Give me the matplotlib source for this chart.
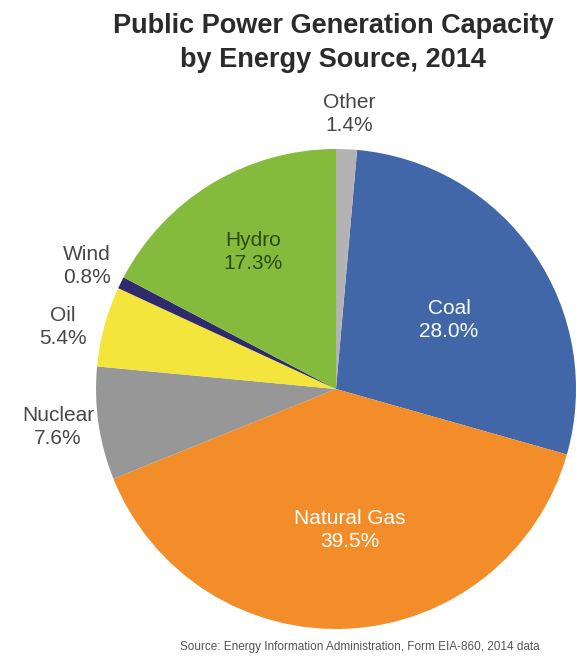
import matplotlib
matplotlib.use("Agg")
import matplotlib.pyplot as plt

categories = ["Coal", "Natural Gas", "Nuclear", "Oil", "Wind", "Hydro", "Other"]
values = [28.0, 39.5, 7.6, 5.4, 0.8, 17.3, 1.4]
colors = ["#4167A9", "#F28D2A", "#979797", "#F3E53B", "#2F2A6B", "#85BB3D", "#B3B3B3"]

plt.rcParams['font.family'] = ['Liberation Sans', 'DejaVu Sans']

W, H = 577, 656
fig = plt.figure(figsize=(W / 100, H / 100), dpi=100)
ax = fig.add_axes([0, 0, 1, 1])

cx, cy, r = 336, H - 389, 240
start = 90 - values[-1] / 100 * 360
ax.pie(values, colors=colors, startangle=start, counterclock=False,
       center=(cx, cy), radius=r, wedgeprops=dict(linewidth=0))
ax.set_xlim(0, W)
ax.set_ylim(0, H)
ax.set_aspect('equal')
ax.axis('off')

def lab(i, x, y, color):
    ax.text(x, H - y, f"{categories[i]}\n{values[i]:.1f}%", ha='center', va='center',
            fontsize=15, color=color, linespacing=1.26)

lab(0, 449, 320, 'white')
lab(1, 350, 530, 'white')
lab(2, 58, 427, '#474747')
lab(3, 63, 327, '#474747')
lab(4, 87, 266, '#474747')
lab(5, 253, 252, '#2c4a10')
lab(6, 349, 114, '#474747')

fig.text(333 / W, 1 - 43 / H, "Public Power Generation Capacity\nby Energy Source, 2014",
         ha='center', va='center', fontsize=19.5, fontweight='bold', color='#2b2b2b',
         linespacing=1.38)
fig.text(360 / W, 1 - 647 / H, "Source: Energy Information Administration, Form EIA-860, 2014 data",
         ha='center', va='center', fontsize=8.5, color='#555555')

fig.savefig("out.png", dpi=100)
